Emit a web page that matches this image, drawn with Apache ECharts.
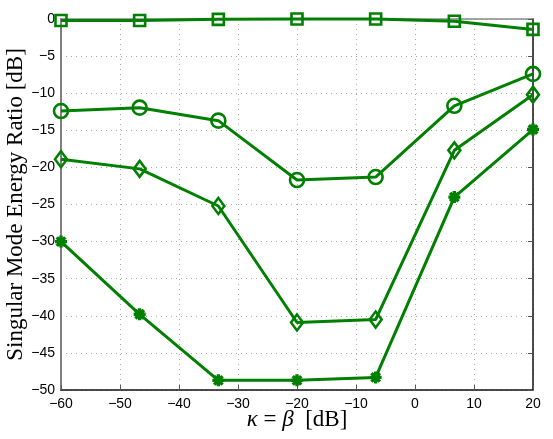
<!DOCTYPE html>
<html>
<head>
<meta charset="utf-8">
<script src="https://cdn.jsdelivr.net/npm/echarts@6/dist/echarts.min.js"></script>
<style>
  html, body { margin: 0; padding: 0; background: #fff; }
  #chart { width: 553px; height: 439px; }
</style>
</head>
<body>
<div id="chart"></div>
<script>
// kappa = beta values [dB]
var kappa = [-60, -46.67, -33.33, -20, -6.67, 6.67, 20];
// singular mode energy ratio [dB], one array per curve
var ratioSquare  = [-0.2, -0.2, -0.05, 0, 0, -0.3, -1.4];
var ratioCircle  = [-12.4, -11.95, -13.7, -21.7, -21.3, -11.7, -7.4];
var ratioDiamond = [-18.9, -20.2, -25.2, -40.9, -40.5, -17.7, -10.2];
var ratioStar    = [-30.0, -39.8, -48.7, -48.7, -48.3, -24.0, -14.9];

var green = '#008000';
var asterisk = 'path://M0,-10L0,10M-10,0L10,0M-7.07,-7.07L7.07,7.07M-7.07,7.07L7.07,-7.07';

function pts(ys) {
    return kappa.map(function (x, i) { return [x, ys[i]]; });
}
function minus(v) {
    return String(v).replace('-', '\u2212');
}
function curve(ys, symbol, size, bw) {
    return {
        type: 'line',
        data: pts(ys),
        symbol: symbol,
        symbolSize: size,
        showAllSymbol: true,
        clip: false,
        lineStyle: { color: green, width: 3 },
        itemStyle: { color: 'rgba(0,0,0,0)', borderColor: green, borderWidth: bw || 2.6 },
        emphasis: { disabled: true }
    };
}

var dotted = { show: true, lineStyle: { color: '#aaa', type: [1, 4], width: 1 } };

var chart = echarts.init(document.getElementById('chart'));
chart.setOption({
    animation: false,
    grid: { left: 61, right: 20, top: 19, bottom: 49, containLabel: false, outerBoundsMode: 'none' },
    xAxis: [{
        type: 'value', min: -60, max: 20, interval: 10,
        name: '{i|\u03ba} = {i|\u03b2}  [dB]',
        nameLocation: 'middle', nameGap: 18, nameMoveOverlap: false,
        nameTextStyle: {
            fontFamily: 'Liberation Serif', fontSize: 23, color: '#000', verticalAlign: 'top',
            rich: { i: { fontFamily: 'Liberation Serif', fontStyle: 'italic', fontSize: 23, color: '#000' } }
        },
        axisLine: { onZero: false, lineStyle: { color: '#111', width: 1.5 } },
        axisTick: { inside: true, length: 5, lineStyle: { color: '#555' } },
        axisLabel: { fontFamily: 'Liberation Sans', fontSize: 14, color: '#000', margin: 7, formatter: minus },
        splitLine: dotted
    }, {
        type: 'value', position: 'top', min: -60, max: 20, interval: 10,
        axisLine: { show: true, onZero: false, lineStyle: { color: '#888', width: 1.5 } },
        axisTick: { show: false }, axisLabel: { show: false }, splitLine: { show: false }
    }],
    yAxis: [{
        type: 'value', min: -50, max: 0, interval: 5,
        name: 'Singular Mode Energy Ratio [dB]',
        nameLocation: 'middle', nameGap: 34, nameMoveOverlap: false,
        nameTextStyle: { fontFamily: 'Liberation Serif', fontSize: 23, color: '#000' },
        axisLine: { show: true, onZero: false, lineStyle: { color: '#808080', width: 2 } },
        axisTick: { show: false },
        axisLabel: { fontFamily: 'Liberation Sans', fontSize: 14, color: '#000', margin: 6, formatter: minus },
        splitLine: dotted
    }, {
        type: 'value', position: 'right', min: -50, max: 0, interval: 5,
        axisLine: { show: true, onZero: false, lineStyle: { color: '#111', width: 1.5 } },
        axisTick: { show: true, inside: true, length: 5, lineStyle: { color: '#555' } },
        axisLabel: { show: false }, splitLine: { show: false }
    }],
    series: [
        curve(ratioSquare, 'rect', 11),
        curve(ratioCircle, 'circle', 14),
        curve(ratioDiamond, 'diamond', [12, 16]),
        curve(ratioStar, asterisk, 12, 3.4)
    ]
});
</script>
</body>
</html>
